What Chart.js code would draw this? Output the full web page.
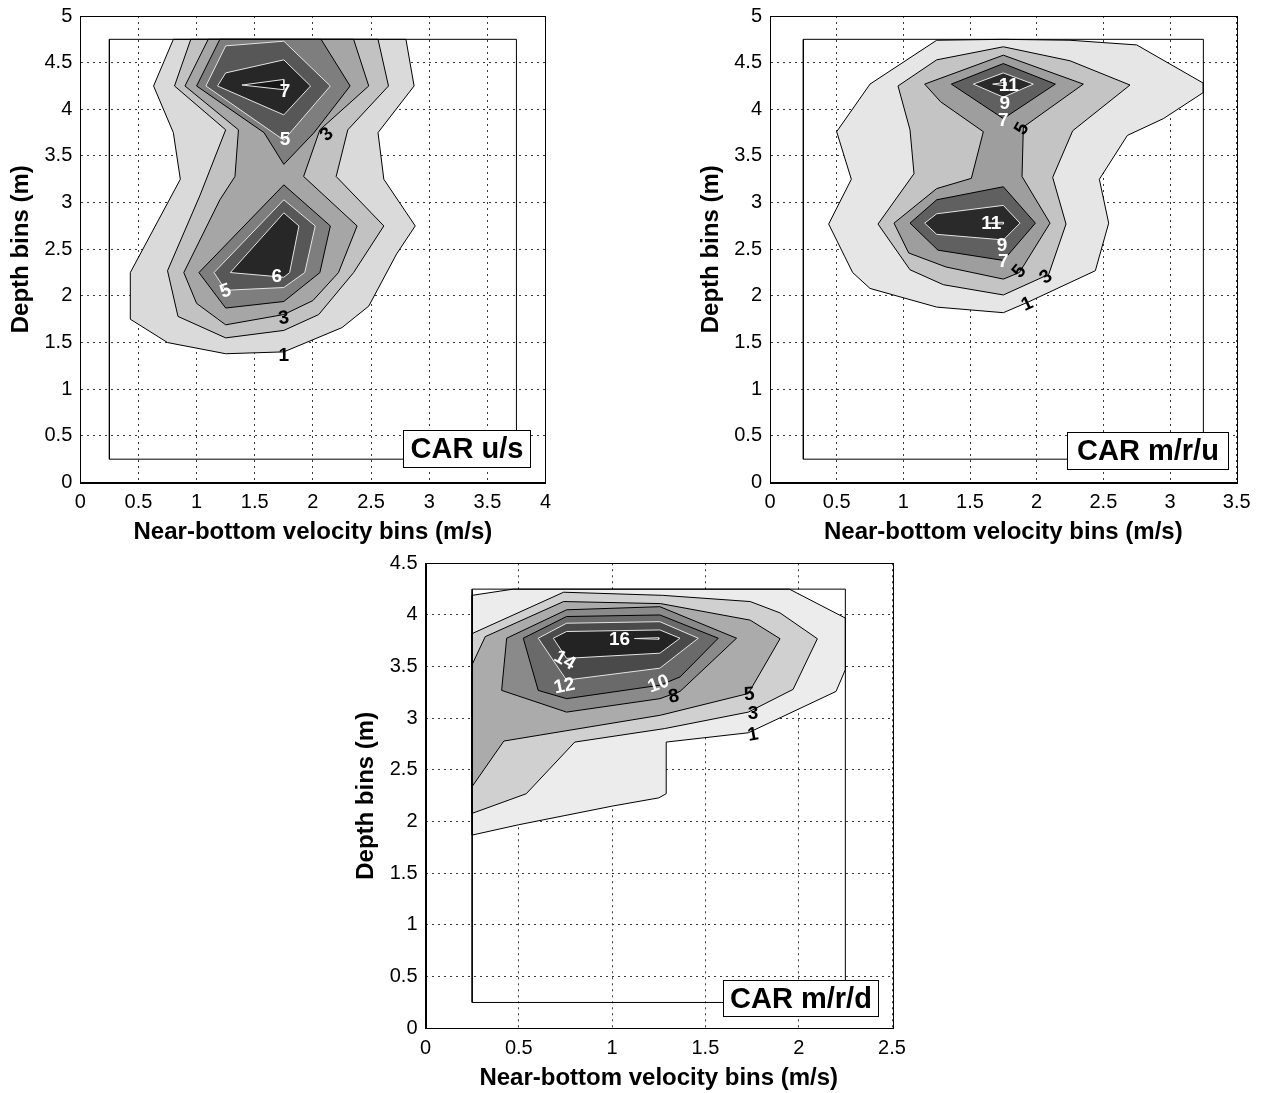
<!doctype html>
<html lang="en">

<head>
  <title>CAR contours</title>
  <meta charset="utf-8">
  <script src="https://cdn.jsdelivr.net/npm/chart.js"></script>
  <style>
    body { margin: 0; background: #fff; width: 1267px; height: 1093px; position: relative; overflow: hidden; }
    canvas { position: absolute; }
  </style>
</head>

<body>
  <canvas id="carUS" width="580" height="550" style="left:0;top:0"></canvas>
  <canvas id="carMRU" width="577" height="550" style="left:690px;top:0"></canvas>
  <canvas id="carMRD" width="560" height="546" style="left:345px;top:547px"></canvas>

  <script>
    // ---- CAR u/s : levels 1..7, rings given as [x (m/s), depth (m)] ----
    const usLevels = [1, 2, 3, 4, 5, 6, 7];
    const usXTicks = [0, 0.5, 1, 1.5, 2, 2.5, 3, 3.5, 4];
    const usYTicks = [0, 0.5, 1, 1.5, 2, 2.5, 3, 3.5, 4, 4.5, 5];
    const usGridX = [0.25, 3.75];
    const usGridY = [0.25, 4.75];
    const us1 = [[0.80,4.75],[2.80,4.75],[2.87,4.25],[2.56,3.75],[2.61,3.25],[2.88,2.75],[2.72,2.45],[2.48,1.89],[2.25,1.66],[1.75,1.40],[1.25,1.38],[0.75,1.50],[0.43,1.75],[0.43,2.25],[0.86,3.25],[0.80,3.75],[0.63,4.25]];
    const us2 = [[0.95,4.75],[2.56,4.75],[2.65,4.25],[2.30,3.78],[2.20,3.28],[2.61,2.75],[2.35,2.25],[2.05,1.80],[1.75,1.63],[1.25,1.55],[0.84,1.78],[0.75,2.27],[1.03,3.08],[1.25,3.78],[0.81,4.25]];
    const us3 = [[1.10,4.75],[2.35,4.75],[2.48,4.25],[2.06,3.78],[1.92,3.28],[2.38,2.75],[2.22,2.25],[2.00,1.95],[1.75,1.80],[1.25,1.69],[1.00,1.92],[0.89,2.25],[1.20,3.03],[1.33,3.28],[1.36,3.78],[0.90,4.25]];
    const us4top = [[1.20,4.75],[2.07,4.75],[2.32,4.25],[2.01,3.75],[1.75,3.41],[1.58,3.75],[1.00,4.25]];
    const us4low = [[1.02,2.25],[1.75,3.19],[2.15,2.75],[2.06,2.25],[1.75,1.94],[1.25,1.87]];
    const us5top = [[1.08,4.25],[1.25,4.68],[1.75,4.73],[2.15,4.25],[1.75,3.67]];
    const us5low = [[1.15,2.25],[1.75,3.03],[2.02,2.75],[1.93,2.25],[1.75,2.09],[1.25,2.06]];
    const us6top = [[1.18,4.25],[1.25,4.39],[1.75,4.53],[1.98,4.25],[1.75,3.94]];
    const us6low = [[1.29,2.25],[1.75,2.89],[1.88,2.75],[1.80,2.25],[1.75,2.20]];
    const us7 = [[1.39,4.26],[1.75,4.32],[1.75,4.21]];
    const usRings = [[1, us1], [2, us2], [3, us3], [4, us4top], [4, us4low], [5, us5top], [5, us5low], [6, us6top], [6, us6low], [7, us7]];
    // contour labels: [level, x, y]
    const usTags = [[7,1.76,4.19],[5,1.76,3.67],[3,2.12,3.73],[6,1.69,2.20],[5,1.25,2.05],[3,1.75,1.76],[1,1.75,1.36]];
    const usTagTilt = [0, 0, -42, 0, -20, -8, 0];

    // ---- CAR m/r/u : levels 1,3,..,11 ----
    const mruLevels = [1, 3, 5, 7, 9, 11];
    const mruXTicks = [0, 0.5, 1, 1.5, 2, 2.5, 3, 3.5];
    const mruYTicks = [0, 0.5, 1, 1.5, 2, 2.5, 3, 3.5, 4, 4.5, 5];
    const mruGridX = [0.25, 3.25];
    const mruGridY = [0.25, 4.75];
    const mru1 = [[0.75,4.27],[1.25,4.74],[1.75,4.75],[2.25,4.74],[2.75,4.69],[3.25,4.28],[3.25,4.18],[2.95,3.90],[2.68,3.72],[2.47,3.25],[2.54,2.78],[2.44,2.27],[1.93,1.93],[1.75,1.82],[1.25,1.88],[0.75,2.08],[0.62,2.25],[0.44,2.77],[0.61,3.25],[0.50,3.76]];
    const mru3 = [[0.96,4.25],[1.25,4.53],[1.75,4.67],[2.25,4.52],[2.70,4.26],[2.27,3.77],[2.12,3.27],[2.22,2.77],[2.09,2.23],[1.75,2.01],[1.30,2.12],[1.05,2.28],[0.81,2.77],[1.08,3.31],[1.05,3.78]];
    const mru5 = [[1.16,4.27],[1.75,4.58],[2.35,4.27],[1.90,3.81],[1.89,3.28],[2.10,2.78],[1.87,2.25],[1.75,2.18],[1.32,2.31],[1.04,2.46],[0.93,2.78],[1.25,3.15],[1.51,3.26],[1.60,3.76],[1.28,4.08]];
    const mru7top = [[1.36,4.27],[1.75,4.49],[2.14,4.27],[1.75,3.90]];
    const mru7low = [[1.05,2.78],[1.25,3.03],[1.75,3.17],[1.99,2.78],[1.75,2.38],[1.26,2.49]];
    const mru9top = [[1.525,4.27],[1.75,4.39],[1.975,4.27],[1.75,4.13]];
    const mru9low = [[1.16,2.78],[1.25,2.88],[1.75,2.97],[1.875,2.78],[1.75,2.60],[1.25,2.66]];
    const mru11top = [[1.67,4.27],[1.77,4.29],[1.77,4.25]];
    const mru11low = [[1.62,2.78],[1.75,2.79],[1.75,2.77]];
    const mruRings = [[1, mru1], [3, mru3], [5, mru5], [7, mru7top], [7, mru7low], [9, mru9top], [9, mru9low], [11, mru11top], [11, mru11low]];
    const mruTags = [[11,1.79,4.25],[9,1.76,4.06],[7,1.75,3.88],[5,1.89,3.79],[11,1.66,2.77],[9,1.74,2.54],[7,1.75,2.37],[5,1.87,2.26],[3,2.07,2.20],[1,1.93,1.91]];
    const mruTagTilt = [0, 0, 0, -60, 0, 0, 0, -50, -35, -25];

    // ---- CAR m/r/d : levels 1,3,5,8,..,16 ----
    const mrdLevels = [1, 3, 5, 8, 10, 12, 14, 16];
    const mrdXTicks = [0, 0.5, 1, 1.5, 2, 2.5];
    const mrdYTicks = [0, 0.5, 1, 1.5, 2, 2.5, 3, 3.5, 4, 4.5];
    const mrdGridX = [0.25, 2.25];
    const mrdGridY = [0.25, 4.25];
    const mrd1 = [[0.25,1.87],[0.50,1.97],[1.00,2.15],[1.25,2.23],[1.29,2.27],[1.29,2.77],[1.73,2.86],[2.20,3.26],[2.25,3.47],[2.25,3.97],[1.95,4.25],[0.47,4.25],[0.25,4.19]];
    const mrd3 = [[0.25,2.08],[0.54,2.27],[0.80,2.77],[1.28,2.90],[1.73,3.06],[1.97,3.28],[2.10,3.77],[1.90,4.02],[1.74,4.13],[1.27,4.19],[0.74,4.22],[0.25,3.82]];
    const mrd5 = [[0.25,2.34],[0.42,2.78],[1.26,3.03],[1.73,3.24],[1.90,3.77],[1.74,3.95],[1.26,4.11],[0.74,4.13],[0.32,3.79],[0.25,3.52]];
    const mrd8 = [[0.435,3.775],[0.756,4.05],[1.256,4.08],[1.667,3.775],[1.364,3.26],[1.256,3.19],[0.756,3.06],[0.408,3.27]];
    const mrd10 = [[0.524,3.775],[0.756,3.985],[1.256,4.00],[1.569,3.775],[1.364,3.40],[1.256,3.32],[0.756,3.19],[0.604,3.27]];
    const mrd12 = [[0.604,3.775],[0.756,3.92],[1.256,3.935],[1.462,3.775],[1.256,3.485],[0.756,3.37]];
    const mrd14 = [[0.685,3.775],[0.756,3.84],[1.256,3.855],[1.364,3.775],[1.256,3.63],[0.756,3.58]];
    const mrd16 = [[1.12,3.772],[1.25,3.78],[1.25,3.765]];
    const mrdRings = [[1, mrd1], [3, mrd3], [5, mrd5], [8, mrd8], [10, mrd10], [12, mrd12], [14, mrd14], [16, mrd16]];
    const mrdTags = [[16,1.04,3.76],[14,0.745,3.56],[12,0.745,3.31],[10,1.25,3.33],[8,1.33,3.21],[5,1.735,3.23],[3,1.755,3.04],[1,1.755,2.84]];
    const mrdTagTilt = [0, 30, -12, -20, -10, -5, 0, -10];

    const FONT = '"Liberation Sans", Arial, Helvetica, sans-serif';

    // frame around the plot area plus the label box in the corner
    const axesBox = {
      id: 'axesBox',
      afterDraw(chart, args, o) {
        const { ctx, chartArea: a } = chart;
        ctx.save();
        ctx.strokeStyle = '#000';
        ctx.lineWidth = 1;
        ctx.strokeRect(Math.round(a.left) + 0.5, Math.round(a.top) + 0.5, Math.round(a.right - a.left), Math.round(a.bottom - a.top));
        const bx = Math.round(a.right - o.inset[0] - o.size[0]) + 0.5;
        const by = Math.round(a.bottom - o.inset[1] - o.size[1]) + 0.5;
        ctx.fillStyle = '#fff';
        ctx.fillRect(bx, by, o.size[0], o.size[1]);
        ctx.strokeRect(bx, by, o.size[0], o.size[1]);
        ctx.fillStyle = '#000';
        ctx.font = 'bold 29px ' + FONT;
        ctx.textAlign = 'center';
        ctx.textBaseline = 'middle';
        ctx.fillText(o.text, bx + o.size[0] / 2, by + o.size[1] / 2 + 1);
        ctx.restore();
      }
    };

    // level numbers written on the contour lines
    const levelTags = {
      id: 'levelTags',
      afterDatasetsDraw(chart, args, o) {
        const { ctx, scales: { x, y } } = chart;
        ctx.save();
        ctx.font = 'bold 19px ' + FONT;
        ctx.textAlign = 'center';
        ctx.textBaseline = 'middle';
        o.tags.forEach(([lvl, vx, vy], i) => {
          ctx.save();
          ctx.translate(x.getPixelForValue(vx), y.getPixelForValue(vy));
          ctx.rotate((o.tilt[i] || 0) * Math.PI / 180);
          ctx.fillStyle = lvl >= o.lightFrom ? '#fff' : '#000';
          ctx.fillText(String(lvl), 0, 0);
          ctx.restore();
        });
        ctx.restore();
      }
    };

    function axis(ticks, title, fit) {
      return {
        type: 'linear',
        min: ticks[0],
        max: ticks[ticks.length - 1],
        afterBuildTicks: s => { s.ticks = ticks.map(v => ({ value: v })); },
        afterFit: fit,
        grid: { color: '#3a3a3a', lineWidth: 1, drawTicks: false },
        border: { color: '#000', width: 1, dash: [2, 4] },
        ticks: { font: { family: FONT, size: 20 }, color: '#000', padding: 8, maxRotation: 0, autoSkip: false, callback: v => String(v) },
        title: { display: true, text: title, color: '#000', font: { family: FONT, size: 24, weight: 'bold' }, padding: title.startsWith('Depth') ? { top: 7, bottom: 0 } : 0 }
      };
    }

    function drawPanel(id, c) {
      const datasets = c.rings.map(([lvl, pts], i) => ({
        data: pts.concat([pts[0]]).map(([x, y]) => ({ x, y })),
        showLine: true,
        fill: 'shape',
        backgroundColor: c.shades[c.levels.indexOf(lvl)],
        borderColor: lvl >= c.lineLightFrom ? '#e4e4e4' : '#000',
        borderWidth: 1,
        pointRadius: 0,
        tension: 0,
        order: -i
      }));
      const [x0, x1] = c.gridX, [y0, y1] = c.gridY;
      datasets.push({
        data: [{ x: x0, y: y0 }, { x: x1, y: y0 }, { x: x1, y: y1 }, { x: x0, y: y1 }, { x: x0, y: y0 }],
        showLine: true, fill: false, borderColor: '#000', borderWidth: 1, pointRadius: 0, tension: 0, order: -999
      });

      new Chart(document.getElementById(id), {
        type: 'scatter',
        data: { datasets },
        options: {
          responsive: false,
          animation: false,
          events: [],
          layout: { padding: c.pad },
          scales: {
            x: axis(c.xTicks, 'Near-bottom velocity bins (m/s)', s => { s.height = 64; s.paddingLeft = 0; s.paddingRight = 0; }),
            y: axis(c.yTicks, 'Depth bins (m)', s => { s.width = c.yWidth; s.paddingTop = 0; s.paddingBottom = 0; })
          },
          plugins: {
            legend: { display: false },
            tooltip: { enabled: false },
            axesBox: c.box,
            levelTags: { tags: c.tags, tilt: c.tilt, lightFrom: c.tagLightFrom }
          }
        },
        plugins: [axesBox, levelTags]
      });
    }

    drawPanel('carUS', {
      levels: usLevels, rings: usRings, xTicks: usXTicks, yTicks: usYTicks, gridX: usGridX, gridY: usGridY,
      tags: usTags, tilt: usTagTilt,
      shades: ['#dadada', '#c2c2c2', '#a6a6a6', '#7e7e7e', '#575757', '#272727', '#161616'],
      lineLightFrom: 5, tagLightFrom: 5,
      yWidth: 80.3, pad: { left: 0, top: 16, right: 34.5, bottom: 3.5 },
      box: { text: 'CAR u/s', inset: [15.5, 15.5], size: [127, 37] }
    });

    drawPanel('carMRU', {
      levels: mruLevels, rings: mruRings, xTicks: mruXTicks, yTicks: mruYTicks, gridX: mruGridX, gridY: mruGridY,
      tags: mruTags, tilt: mruTagTilt,
      shades: ['#e6e6e6', '#c4c4c4', '#9e9e9e', '#606060', '#2a2a2a', '#141414'],
      lineLightFrom: 9, tagLightFrom: 7,
      yWidth: 80, pad: { left: 0, top: 16, right: 30.3, bottom: 3.5 },
      box: { text: 'CAR m/r/u', inset: [8.5, 13.5], size: [161, 37] }
    });

    drawPanel('carMRD', {
      levels: mrdLevels, rings: mrdRings, xTicks: mrdXTicks, yTicks: mrdYTicks, gridX: mrdGridX, gridY: mrdGridY,
      tags: mrdTags, tilt: mrdTagTilt,
      shades: ['#ececec', '#d0d0d0', '#ababab', '#8a8a8a', '#6a6a6a', '#4a4a4a', '#232323', '#121212'],
      lineLightFrom: 12, tagLightFrom: 10,
      yWidth: 80.5, pad: { left: 0, top: 16.3, right: 13, bottom: 0.7 },
      box: { text: 'CAR m/r/d', inset: [14, 12], size: [155, 36] }
    });
  </script>
</body>

</html>
